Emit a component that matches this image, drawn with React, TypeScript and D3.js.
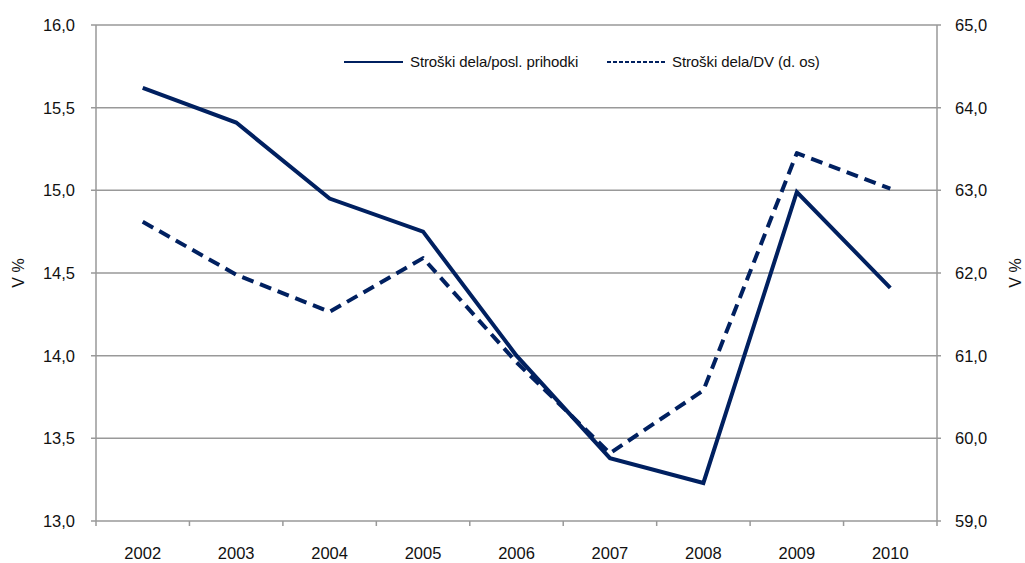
import React from "react";
import * as d3 from "d3";

const years = ["2002", "2003", "2004", "2005", "2006", "2007", "2008", "2009", "2010"];
const costsToRevenue = [15.62, 15.41, 14.95, 14.75, 14.0, 13.38, 13.23, 14.99, 14.41];
const costsToValueAdded = [62.62, 61.98, 61.53, 62.18, 60.92, 59.82, 60.58, 63.45, 63.02];
const leftTicks = [13.0, 13.5, 14.0, 14.5, 15.0, 15.5, 16.0];
const rightTicks = [59, 60, 61, 62, 63, 64, 65];
const seriesNames = ["Stroški dela/posl. prihodki", "Stroški dela/DV (d. os)"];

const W = 1025, H = 563;
const left = 96, right = 937, top = 25, bottom = 521;
const navy = "#002060";
const grid = "#999999";
const font = "'Liberation Sans', Arial, sans-serif";

export default function App() {
  const x = d3.scaleBand<string>().domain(years).range([left, right]);
  const yL = d3.scaleLinear().domain([13, 16]).range([bottom, top]);
  const yR = d3.scaleLinear().domain([59, 65]).range([bottom, top]);
  const cx = (d: string) => (x(d) as number) + x.bandwidth() / 2;

  const lineL = d3.line<number>().x((_, i) => cx(years[i])).y((d) => yL(d));
  const lineR = d3.line<number>().x((_, i) => cx(years[i])).y((d) => yR(d));

  const fmt = (v: number) => v.toFixed(1).replace(".", ",");

  return (
    <svg width={W} height={H} style={{ position: "absolute", left: 0, top: 0, display: "block", background: "#fff" }}>
      {leftTicks.map((t) => (
        <g key={"gl" + t}>
          <line x1={left - 5} x2={right + 4} y1={yL(t)} y2={yL(t)} stroke={grid} strokeWidth={1.5} />
          <text x={75} y={yL(t) + 6} textAnchor="end" fontFamily={font} fontSize={16.5} fill="#111">{fmt(t)}</text>
        </g>
      ))}
      {rightTicks.map((t) => (
        <text key={"gr" + t} x={955} y={yR(t) + 6} textAnchor="start" fontFamily={font} fontSize={16.5} fill="#111">{fmt(t)}</text>
      ))}
      <line x1={left} x2={left} y1={top} y2={bottom + 5} stroke={grid} strokeWidth={1.5} />
      <line x1={right} x2={right} y1={top} y2={bottom + 5} stroke={grid} strokeWidth={1.5} />
      {years.map((y, i) => (
        <g key={y}>
          {i > 0 && (
            <line x1={x(y) as number} x2={x(y) as number} y1={bottom} y2={bottom + 5} stroke={grid} strokeWidth={1.5} />
          )}
          <text x={cx(y)} y={559} textAnchor="middle" fontFamily={font} fontSize={16.5} fill="#111">{y}</text>
        </g>
      ))}
      <text transform={`translate(24,${(top + bottom) / 2}) rotate(-90)`} textAnchor="middle" fontFamily={font} fontSize={16} fill="#111">V %</text>
      <text transform={`translate(1021,${(top + bottom) / 2}) rotate(-90)`} textAnchor="middle" fontFamily={font} fontSize={16} fill="#111">V %</text>

      <path d={lineR(costsToValueAdded) || ""} fill="none" stroke={navy} strokeWidth={4} strokeDasharray="12 7" strokeLinejoin="round" />
      <path d={lineL(costsToRevenue) || ""} fill="none" stroke={navy} strokeWidth={4} strokeLinejoin="miter" />

      <line x1={344} x2={403} y1={62} y2={62} stroke={navy} strokeWidth={2} />
      <text x={410} y={67} fontFamily={font} fontSize={15} fill="#111" letterSpacing={-0.1}>{seriesNames[0]}</text>
      <line x1={607} x2={665} y1={62} y2={62} stroke={navy} strokeWidth={2} strokeDasharray="4 2" />
      <text x={672} y={67} fontFamily={font} fontSize={15} fill="#111" letterSpacing={-0.1}>{seriesNames[1]}</text>
    </svg>
  );
}
